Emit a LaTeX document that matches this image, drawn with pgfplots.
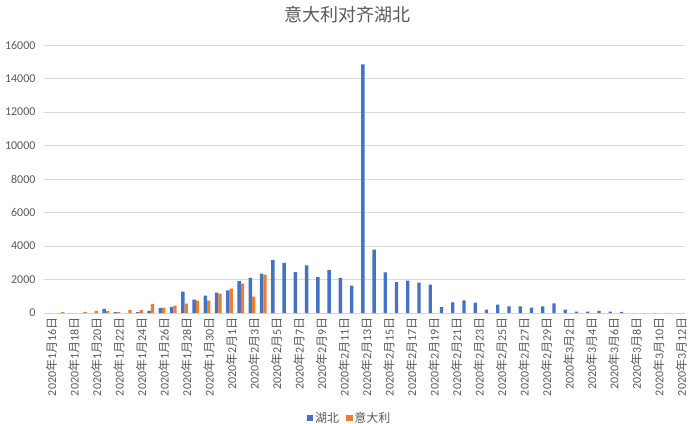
\documentclass[border=0pt]{standalone}
\usepackage{pgfplots}
\pgfplotsset{compat=1.18}
\usepackage{pgfplotstable}
\usepackage{fontspec}
\setmainfont{Carlito}
\newfontfamily\cjk{Noto Sans CJK SC}
\definecolor{hb}{HTML}{4472C4}
\definecolor{it}{HTML}{ED7D31}
\definecolor{gridc}{HTML}{D9D9D9}
\definecolor{txt}{HTML}{595959}
\newcommand\dl[2]{2020{\cjk 年}#1{\cjk 月}#2{\cjk 日}}

\pgfplotstableread{
i hubei italy
0 0 0
1 0 60
2 0 0
3 0 70
4 0 120
5 240 120
6 60 60
7 0 190
8 60 190
9 120 550
10 300 320
11 370 440
12 1270 560
13 800 740
14 1040 740
15 1220 1160
16 1347 1460
17 1900 1760
18 2103 977
19 2345 2290
20 3156 0
21 2987 0
22 2447 0
23 2841 0
24 2147 0
25 2570 0
26 2097 0
27 1638 0
28 14840 0
29 3780 0
30 2420 0
31 1843 0
32 1933 0
33 1807 0
34 1693 0
35 349 0
36 631 0
37 747 0
38 626 0
39 202 0
40 499 0
41 401 0
42 390 0
43 318 0
44 390 0
45 570 0
46 196 0
47 80 0
48 80 0
49 134 0
50 80 0
51 74 0
52 0 0
53 0 0
54 0 0
55 0 0
56 0 0
}\data

\begin{document}
\begin{tikzpicture}
\begin{axis}[
  name=ax,
  scale only axis,
  width=641bp, height=268bp,
  xmin=-0.5, xmax=56.5,
  ymin=0, ymax=16000,
  ybar=0pt, bar width=3.4bp,
  axis x line*=bottom, axis y line*=left,
  y axis line style={draw=none},
  x axis line style={draw=gridc, line width=0.8pt},
  ytick={0,2000,...,16000},
  ymajorgrids, grid style={draw=gridc, line width=0.8pt},
  ytick style={draw=none},
  scaled y ticks=false,
  yticklabel style={font=\fontsize{12bp}{14bp}\selectfont, color=txt, xshift=-5bp},
  /pgf/number format/assume math mode=true,
  /pgf/number format/1000 sep={},
  xtick={0,2,...,56},
  xtick style={draw=none},
  xticklabels={\dl{1}{16},\dl{1}{18},\dl{1}{20},\dl{1}{22},\dl{1}{24},\dl{1}{26},\dl{1}{28},\dl{1}{30},
    \dl{2}{1},\dl{2}{3},\dl{2}{5},\dl{2}{7},\dl{2}{9},\dl{2}{11},\dl{2}{13},\dl{2}{15},\dl{2}{17},\dl{2}{19},
    \dl{2}{21},\dl{2}{23},\dl{2}{25},\dl{2}{27},\dl{2}{29},\dl{3}{2},\dl{3}{4},\dl{3}{6},\dl{3}{8},\dl{3}{10},\dl{3}{12}},
  xticklabel style={font=\fontsize{12bp}{14bp}\selectfont, color=txt, rotate=90, anchor=east, inner sep=0pt, yshift=-2bp},
  extra x ticks={-0.5,1.5,...,55.5},
  extra x tick labels={},
  extra x tick style={tick align=outside, major tick length=4bp, tick style={draw=gridc, line width=0.8pt}},
  title={\cjk 意大利对齐湖北},
  title style={font=\fontsize{18bp}{20bp}\selectfont, color=txt, at={(0.5,1)}, anchor=center, yshift=24bp, xshift=-17bp},
  legend style={at={(0.5,-0.392)}, xshift=-15bp, anchor=center, draw=none, legend columns=2,
    font=\fontsize{12bp}{14bp}\selectfont\cjk, text=txt,
    /tikz/every even column/.append style={column sep=5bp}},
  legend image code/.code={\fill[#1] (0bp,-3.2bp) rectangle (6.5bp,3.2bp);},
]
\addplot[fill=hb, draw=none] table[x=i, y=hubei]{\data};
\addplot[fill=it, draw=none] table[x=i, y=italy]{\data};
\legend{湖北, 意大利}
\end{axis}
\pgfresetboundingbox
\path[use as bounding box] ([xshift=-44bp,yshift=-110bp]ax.south west) rectangle ([xshift=9bp,yshift=45bp]ax.north east);
\end{tikzpicture}
\end{document}
